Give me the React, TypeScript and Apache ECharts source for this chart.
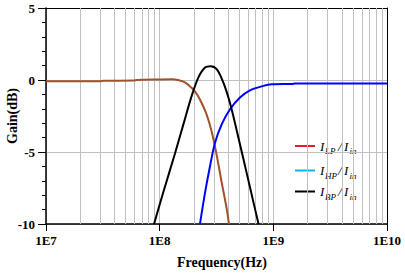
import React, { useEffect, useRef } from "react";
import * as echarts from "echarts";

// Frequencies (Hz) and gains (dB)
const lpFreq = [1e7, 3e7, 3.2e7, 6e7, 6.2e7, 1e8, 1.3e8, 1.45e8, 1.6e8, 1.73e8, 1.85e8, 2.05e8, 2.26e8, 2.59e8, 2.87e8, 3.18e8, 3.51e8, 3.89e8, 4.07e8];
const lpGain = [-0.09, -0.08, -0.05, -0.04, 0.0, 0.04, 0.05, 0.0, -0.1, -0.25, -0.45, -0.8, -1.35, -2.4, -3.6, -5.25, -7.1, -8.95, -10];

const hpFreq = [2.263e8, 2.505e8, 2.772e8, 3.068e8, 3.513e8, 4.157e8, 5.089e8, 6.232e8, 8.157e8, 9.67e8, 1.5e9, 1.52e9, 1e10];
const hpGain = [-10, -7.84, -5.99, -4.36, -3.08, -2.03, -1.22, -0.72, -0.41, -0.3, -0.27, -0.24, -0.24];

const bpFreq = [8.92e7, 1.076e8, 1.364e8, 1.614e8, 1.913e8, 2.188e8, 2.505e8, 2.811e8, 3.175e8, 3.629e8, 4.157e8, 4.762e8, 5.441e8, 6.232e8, 7.374e8, 7.45e8];
const bpGain = [-10, -7.8, -5.1, -3.1, -1.1, 0.17, 0.87, 0.96, 0.75, -0.17, -1.6, -3.5, -5.45, -7.45, -9.93, -10];

const minorGridFreqs = [
  2e7, 3e7, 4e7, 5e7, 6e7, 7e7, 8e7, 9e7,
  2e8, 3e8, 4e8, 5e8, 6e8, 7e8, 8e8, 9e8,
  2e9, 3e9, 4e9, 5e9, 6e9, 7e9, 8e9, 9e9,
];

const legendSubs = ["LP", "HP", "BP"];
const legendColors = ["#e02020", "#10b0f0", "#000000"];

const FONT = "'Liberation Serif', 'Times New Roman', serif";

const zip = (xs: number[], ys: number[]) => xs.map((x, i) => [x, ys[i]]);

export default function App() {
  const ref = useRef<HTMLDivElement>(null);
  useEffect(() => {
    if (!ref.current) return;
    const chart = echarts.init(ref.current, null, { renderer: "svg" });
    const legendY = [146, 170.5, 191.5];
    const legendGraphics: any[] = [];
    legendSubs.forEach((sub, i) => {
      const y = legendY[i];
      legendGraphics.push(
        { type: "line", shape: { x1: 295, y1: y, x2: 315, y2: y }, style: { stroke: legendColors[i], lineWidth: 2 } },
        { type: "text", x: 320, y: y, style: { text: "I", font: `italic 13px ${FONT}`, fill: "#000", verticalAlign: "middle" } },
        { type: "text", x: 325, y: y + 5, style: { text: sub, font: `italic 9px ${FONT}`, fill: "#000", verticalAlign: "middle" } },
        { type: "text", x: 338, y: y, style: { text: "/", font: `italic 13px ${FONT}`, fill: "#000", verticalAlign: "middle" } },
        { type: "text", x: 344, y: y, style: { text: "I", font: `italic 13px ${FONT}`, fill: "#000", verticalAlign: "middle" } },
        { type: "text", x: 349.5, y: y + 5, style: { text: "in", font: `italic 9px ${FONT}`, fill: "#000", verticalAlign: "middle" } }
      );
    });

    const option: any = {
      animation: false,
      backgroundColor: "#ffffff",
      grid: { left: 46, right: 18, top: 8, bottom: 50, containLabel: false, outerBoundsMode: "none" },
      xAxis: [
        {
          type: "log",
          logBase: 10,
          min: 1e7,
          max: 1e10,
          splitNumber: 3,
          name: "Frequency(Hz)",
          nameLocation: "middle",
          nameGap: 31,
          nameMoveOverlap: false,
          nameTextStyle: { fontFamily: FONT, fontWeight: "bold", fontSize: 14, color: "#000", padding: [0, 0, 0, 11] },
          axisLine: { show: true, onZero: false, lineStyle: { color: "#000", width: 1.5 } },
          axisTick: { show: true, length: 7, lineStyle: { color: "#000" } },
          axisLabel: {
            fontFamily: FONT,
            fontWeight: "bold",
            fontSize: 13,
            color: "#000",
            margin: 10,
            formatter: (v: number) => "1E" + Math.round(Math.log10(v)),
          },
          splitLine: { show: true, lineStyle: { color: "#c0c0c0", width: 1 } },
        },
        {
          type: "log",
          logBase: 10,
          min: 1e7,
          max: 1e10,
          position: "top",
          axisLine: { show: true, onZero: false, lineStyle: { color: "#000", width: 1 } },
          axisTick: { show: false },
          axisLabel: { show: false },
          splitLine: { show: false },
        },
      ],
      yAxis: [
        {
          type: "value",
          min: -10,
          max: 5,
          interval: 5,
          name: "Gain(dB)",
          nameLocation: "middle",
          nameGap: 27,
          nameMoveOverlap: false,
          nameTextStyle: { fontFamily: FONT, fontWeight: "bold", fontSize: 14, color: "#000" },
          axisLine: { show: true, onZero: false, lineStyle: { color: "#000", width: 1.5 } },
          axisTick: { show: true, length: 8, lineStyle: { color: "#000" } },
          minorTick: { show: true, splitNumber: 5, length: 4, lineStyle: { color: "#000" } },
          axisLabel: { fontFamily: FONT, fontWeight: "bold", fontSize: 13, color: "#000", margin: 11 },
          splitLine: { show: true, lineStyle: { color: "#c0c0c0", width: 1 } },
        },
        {
          type: "value",
          min: -10,
          max: 5,
          interval: 5,
          position: "right",
          axisLine: { show: true, onZero: false, lineStyle: { color: "#000", width: 1 } },
          axisTick: { show: false },
          axisLabel: { show: false },
          splitLine: { show: false },
        },
      ],
      series: [
        {
          name: "grid",
          type: "line",
          data: [],
          silent: true,
          z: 1,
          markLine: {
            silent: true,
            z: 1,
            symbol: ["none", "none"],
            label: { show: false },
            lineStyle: { color: "#c0c0c0", width: 1, type: "solid" },
            data: minorGridFreqs.map((f) => ({ xAxis: f })),
          },
        },
        {
          name: "LP",
          type: "line",
          data: zip(lpFreq, lpGain),
          showSymbol: false,
          smooth: 0.3,
          z: 3,
          lineStyle: { color: "#a0522d", width: 2 },
          itemStyle: { color: "#a0522d" },
        },
        {
          name: "HP",
          type: "line",
          data: zip(hpFreq, hpGain),
          showSymbol: false,
          smooth: 0.3,
          z: 3,
          lineStyle: { color: "#0000ff", width: 2 },
          itemStyle: { color: "#0000ff" },
        },
        {
          name: "BP",
          type: "line",
          data: zip(bpFreq, bpGain),
          showSymbol: false,
          smooth: 0.3,
          z: 3,
          lineStyle: { color: "#000000", width: 2 },
          itemStyle: { color: "#000000" },
        },
      ],
      graphic: legendGraphics,
    };
    chart.setOption(option);
    return () => chart.dispose();
  }, []);
  return <div ref={ref} style={{ position: "absolute", left: 0, top: 0, width: 405, height: 274 }} />;
}
